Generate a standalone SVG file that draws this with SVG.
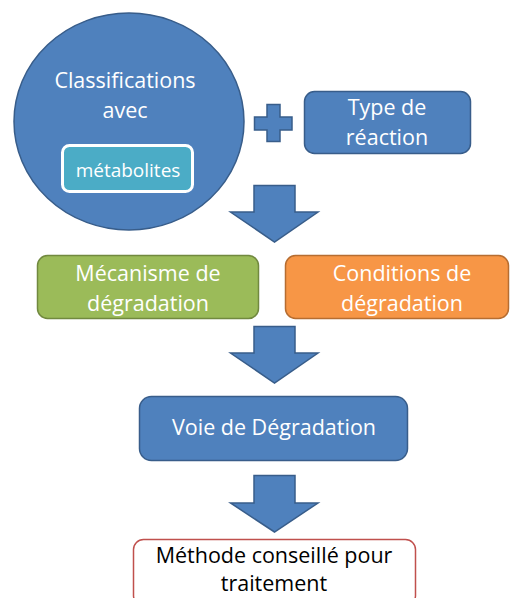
<svg xmlns="http://www.w3.org/2000/svg" width="511" height="598" viewBox="0 0 511 598">
<style>
text{font-family:"Open Sans","Liberation Sans",sans-serif;font-size:21.5px;text-anchor:middle;fill:#fff}
.blue{fill:#4F81BD;stroke:#385D8A;stroke-width:1.5}
.green{fill:#9BBB59;stroke:#71893F;stroke-width:1.5}
.orange{fill:#F79646;stroke:#B66D31;stroke-width:1.5}
.red{fill:#fff;stroke:#C0504D;stroke-width:1.5}
.teal{fill:#4BACC6;stroke:#fff;stroke-width:3}
.dark{fill:#000}
</style>
<rect width="511" height="598" fill="#fff"/>
<g id="classifications">
<ellipse class="blue" cx="129" cy="121.5" rx="115" ry="108.5"/>
<text x="125" y="88">Classifications</text>
<text x="125" y="118">avec</text>
</g>
<g id="metabolites">
<rect class="teal" x="62.5" y="145.5" width="130" height="46" rx="7"/>
<text x="128" y="177" style="font-size:19px">métabolites</text>
</g>
<g id="plus">
<path class="blue" d="M267,104.5H280V117H292V130H280V141.5H267V130H254.5V117H267Z"/>
</g>
<g id="type-reaction">
<rect class="blue" x="304.5" y="91.5" width="166" height="62" rx="10"/>
<text x="387" y="115">Type de</text>
<text x="387" y="145">réaction</text>
</g>
<g id="mecanisme">
<rect class="green" x="37.5" y="255.5" width="221" height="63" rx="10"/>
<text x="148" y="281">Mécanisme de</text>
<text x="148" y="311">dégradation</text>
</g>
<g id="conditions">
<rect class="orange" x="285.5" y="255.5" width="223" height="63" rx="10"/>
<text x="402" y="281">Conditions de</text>
<text x="402" y="311">dégradation</text>
</g>
<g id="voie">
<rect class="blue" x="139.5" y="396.5" width="268" height="64" rx="12"/>
<text x="274" y="435">Voie de Dégradation</text>
</g>
<g id="methode">
<rect class="red" x="133.5" y="539.5" width="282" height="66" rx="10"/>
<text class="dark" x="274" y="563">Méthode conseillé pour</text>
<text class="dark" x="274" y="591">traitement</text>
</g>
<g id="connectors">
<path class="blue" d="M254,185.5H295V212H318L274.5,242L230.5,212H254Z"/>
<path class="blue" d="M254,326.5H295V353H318L274.5,383L230.5,353H254Z"/>
<path class="blue" d="M254,475.5H295V503H318L274.5,532L230.5,503H254Z"/>
</g>
</svg>
